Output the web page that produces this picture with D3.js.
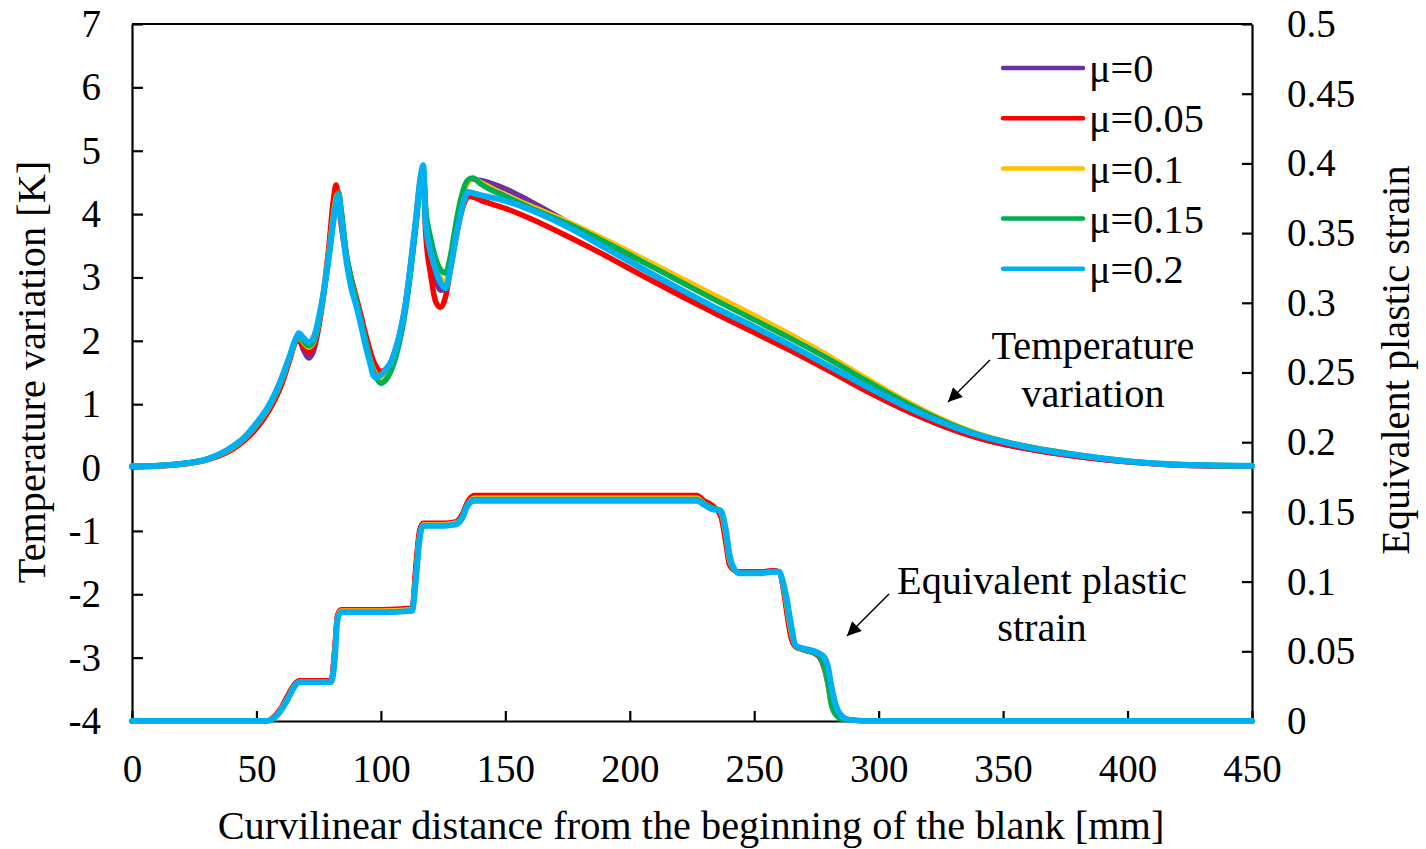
<!DOCTYPE html>
<html><head><meta charset="utf-8">
<script src="https://cdn.jsdelivr.net/npm/d3@7"></script>
<style>
body{margin:0;background:#fff;}
svg text{font-family:"Liberation Serif","Times New Roman",serif;fill:#000;}
</style>
</head><body>
<svg id="chart" width="1426" height="849"></svg>
<script>
// ---------- data ----------
const seriesNames  = ["μ=0", "μ=0.05", "μ=0.1", "μ=0.15", "μ=0.2"];
const seriesColors = ["#7030A0", "#FF0000", "#FFC000", "#00B050", "#00B0F0"];

const xTicks      = [0, 50, 100, 150, 200, 250, 300, 350, 400, 450];
const tempTicks   = [-4, -3, -2, -1, 0, 1, 2, 3, 4, 5, 6, 7];
const strainTicks = [0, 0.05, 0.1, 0.15, 0.2, 0.25, 0.3, 0.35, 0.4, 0.45, 0.5];
const strainTickLabels = ["0", "0.05", "0.1", "0.15", "0.2", "0.25", "0.3", "0.35", "0.4", "0.45", "0.5"];

// Temperature variation [K] vs curvilinear distance [mm]
const tempX = [
  0, 10, 20, 30, 40, 45, 50, 55, 60, 63,
  66, 67, 69, 71, 73, 76, 79, 81, 82, 83,
  84, 86, 88, 90, 92, 94, 96, 97, 98, 100,
  102, 104, 106, 108, 110, 112, 114, 116, 117, 118,
  120, 122, 124, 126, 128, 130, 132, 134, 135, 137,
  140, 150, 160, 175, 190, 205, 220, 235, 250, 265,
  280, 295, 310, 325, 340, 355, 370, 385, 400, 420,
  450];
const tempMu0 = [
  0.02, 0.03, 0.06, 0.13, 0.30, 0.45, 0.66, 0.94, 1.35, 1.68,
  2.00, 2.02, 1.85, 1.73, 1.85, 2.45, 3.35, 4.05, 4.30, 4.35,
  4.05, 3.38, 2.98, 2.66, 2.35, 2.02, 1.72, 1.60, 1.52, 1.44,
  1.45, 1.55, 1.78, 2.10, 2.55, 3.15, 3.82, 4.55, 4.70, 3.95,
  3.35, 2.98, 2.80, 2.85, 3.20, 3.72, 4.15, 4.45, 4.52, 4.55,
  4.53, 4.40, 4.20, 3.87, 3.49, 3.14, 2.80, 2.48, 2.17, 1.86,
  1.54, 1.21, 0.92, 0.67, 0.47, 0.33, 0.23, 0.15, 0.09, 0.04,
  0.02];
const tempMu005 = [
  0.01, 0.02, 0.05, 0.12, 0.28, 0.42, 0.62, 0.90, 1.30, 1.65,
  2.00, 2.02, 1.90, 1.82, 1.92, 2.50, 3.45, 4.25, 4.46, 4.20,
  3.85, 3.35, 3.00, 2.70, 2.40, 2.08, 1.80, 1.68, 1.60, 1.52,
  1.55, 1.66, 1.88, 2.18, 2.62, 3.22, 3.88, 4.55, 4.60, 3.70,
  3.05, 2.62, 2.53, 2.70, 3.15, 3.60, 3.98, 4.22, 4.28, 4.27,
  4.22, 4.09, 3.93, 3.65, 3.35, 3.03, 2.72, 2.42, 2.13, 1.84,
  1.53, 1.21, 0.92, 0.67, 0.47, 0.33, 0.23, 0.15, 0.09, 0.04,
  0.02];
const tempMu01 = [
  0.02, 0.03, 0.06, 0.13, 0.30, 0.45, 0.67, 0.95, 1.36, 1.70,
  2.02, 2.06, 1.97, 1.90, 1.98, 2.50, 3.35, 4.00, 4.25, 4.33,
  4.05, 3.35, 2.95, 2.62, 2.30, 1.97, 1.66, 1.55, 1.47, 1.38,
  1.42, 1.56, 1.80, 2.12, 2.56, 3.15, 3.82, 4.55, 4.72, 4.05,
  3.55, 3.20, 2.98, 2.92, 3.25, 3.75, 4.15, 4.43, 4.50, 4.56,
  4.50, 4.30, 4.13, 3.88, 3.60, 3.30, 3.00, 2.70, 2.40, 2.09,
  1.76, 1.41, 1.07, 0.77, 0.53, 0.37, 0.26, 0.17, 0.10, 0.05,
  0.03];
const tempMu015 = [
  0.02, 0.03, 0.06, 0.13, 0.31, 0.46, 0.68, 0.96, 1.37, 1.70,
  2.03, 2.08, 1.99, 1.92, 2.00, 2.50, 3.30, 3.95, 4.20, 4.33,
  4.08, 3.40, 2.98, 2.65, 2.32, 1.98, 1.65, 1.52, 1.43, 1.33,
  1.38, 1.52, 1.75, 2.08, 2.52, 3.10, 3.78, 4.55, 4.72, 4.10,
  3.62, 3.30, 3.12, 3.07, 3.35, 3.82, 4.22, 4.48, 4.54, 4.57,
  4.48, 4.28, 4.10, 3.85, 3.56, 3.25, 2.94, 2.63, 2.33, 2.03,
  1.71, 1.37, 1.04, 0.75, 0.52, 0.37, 0.26, 0.17, 0.10, 0.05,
  0.03];
const tempMu02 = [
  0.02, 0.03, 0.06, 0.13, 0.32, 0.47, 0.70, 0.98, 1.40, 1.72,
  2.05, 2.12, 2.04, 1.98, 2.06, 2.55, 3.30, 3.90, 4.15, 4.30,
  3.95, 3.30, 2.85, 2.57, 2.25, 1.90, 1.60, 1.45, 1.42, 1.46,
  1.55, 1.66, 1.88, 2.18, 2.60, 3.22, 3.90, 4.60, 4.77, 3.85,
  3.40, 3.12, 2.92, 2.83, 3.15, 3.60, 4.00, 4.28, 4.35, 4.33,
  4.30, 4.21, 4.07, 3.80, 3.47, 3.14, 2.82, 2.51, 2.22, 1.92,
  1.60, 1.28, 0.98, 0.72, 0.51, 0.36, 0.25, 0.17, 0.10, 0.05,
  0.03];

// Equivalent plastic strain vs curvilinear distance [mm]
const strainX = [
  0, 54, 57, 60, 63, 65, 67.5, 70, 80, 81.5,
  82.5, 84, 100, 112.5, 114, 115.5, 117, 125, 130, 132.5,
  135, 137.5, 150, 200, 227, 230, 233, 236.5, 238.5, 240,
  242, 244, 252, 258, 260, 261.5, 263, 264.7, 266.7, 270,
  275.5, 278, 279.6, 281, 283, 285.5, 288, 295, 450];
const strainMu0 = [
  0, 0, 0.003, 0.009, 0.019, 0.025, 0.029, 0.029, 0.029, 0.052,
  0.075, 0.079, 0.079, 0.080, 0.108, 0.135, 0.141, 0.141, 0.142, 0.147,
  0.157, 0.161, 0.161, 0.161, 0.161, 0.157, 0.154, 0.148, 0.130, 0.113,
  0.108, 0.107, 0.107, 0.108, 0.107, 0.097, 0.080, 0.062, 0.054, 0.051,
  0.047, 0.038, 0.026, 0.012, 0.004, 0.002, 0.001, 0, 0];
const strainMu005 = [
  0, 0, 0.003, 0.010, 0.020, 0.026, 0.029, 0.029, 0.029, 0.055,
  0.076, 0.080, 0.080, 0.081, 0.112, 0.137, 0.142, 0.142, 0.143, 0.148,
  0.158, 0.162, 0.162, 0.162, 0.162, 0.158, 0.155, 0.147, 0.128, 0.112,
  0.108, 0.107, 0.107, 0.108, 0.107, 0.096, 0.078, 0.060, 0.053, 0.051,
  0.048, 0.040, 0.028, 0.014, 0.005, 0.002, 0.001, 0, 0];
const strainMu01 = [
  0, 0, 0.002, 0.009, 0.018, 0.025, 0.028, 0.028, 0.028, 0.050,
  0.074, 0.079, 0.079, 0.080, 0.105, 0.133, 0.141, 0.141, 0.142, 0.146,
  0.156, 0.160, 0.160, 0.160, 0.160, 0.156, 0.153, 0.150, 0.134, 0.116,
  0.108, 0.106, 0.106, 0.107, 0.107, 0.098, 0.083, 0.065, 0.054, 0.051,
  0.048, 0.040, 0.027, 0.012, 0.004, 0.002, 0.001, 0, 0];
const strainMu015 = [
  0, 0, 0.002, 0.008, 0.018, 0.024, 0.028, 0.028, 0.028, 0.048,
  0.073, 0.078, 0.078, 0.079, 0.103, 0.132, 0.140, 0.140, 0.141, 0.146,
  0.156, 0.159, 0.159, 0.159, 0.159, 0.156, 0.153, 0.151, 0.136, 0.118,
  0.108, 0.106, 0.106, 0.107, 0.107, 0.099, 0.085, 0.067, 0.054, 0.051,
  0.048, 0.040, 0.027, 0.011, 0.004, 0.001, 0.001, 0, 0];
const strainMu02 = [
  0, 0, 0.002, 0.008, 0.017, 0.024, 0.028, 0.028, 0.028, 0.045,
  0.072, 0.078, 0.078, 0.079, 0.100, 0.130, 0.140, 0.140, 0.141, 0.145,
  0.155, 0.158, 0.158, 0.158, 0.158, 0.155, 0.152, 0.151, 0.138, 0.120,
  0.109, 0.106, 0.106, 0.107, 0.107, 0.100, 0.088, 0.070, 0.054, 0.052,
  0.049, 0.046, 0.039, 0.025, 0.010, 0.003, 0.001, 0, 0];

const tempSeries   = [tempMu0, tempMu005, tempMu01, tempMu015, tempMu02];
const strainSeries = [strainMu0, strainMu005, strainMu01, strainMu015, strainMu02];

// ---------- layout ----------
const L = 132, R = 1252, T = 24, B = 721;
const FS = 39;   // tick labels
const FT = 40.3; // titles, legend, annotations

const svg = d3.select("#chart");
const x  = d3.scaleLinear().domain([0, 450]).range([L, R]);
const yT = d3.scaleLinear().domain([-4, 7]).range([B, T]);
const yS = d3.scaleLinear().domain([0, 0.5]).range([B, T]);

function styleAxis(g) {
  g.selectAll("path.domain").attr("stroke", "#000").attr("stroke-width", 2.2);
  g.selectAll(".tick line").attr("stroke", "#000").attr("stroke-width", 2.2);
  g.selectAll(".tick text").attr("font-size", FS)
    .attr("font-family", '"Liberation Serif","Times New Roman",serif').attr("fill", "#000");
}

// top frame line
svg.append("line").attr("x1", L).attr("x2", R).attr("y1", T).attr("y2", T)
  .attr("stroke", "#000").attr("stroke-width", 2.2);

// axes
svg.append("g").attr("transform", `translate(0,${B})`)
  .call(d3.axisBottom(x).tickValues(xTicks).tickFormat(d3.format("d"))
        .tickSizeInner(-10).tickSizeOuter(0).tickPadding(33))
  .call(styleAxis);

svg.append("g").attr("transform", `translate(${L},0)`)
  .call(d3.axisLeft(yT).tickValues(tempTicks).tickFormat(d => String(d))
        .tickSizeInner(-11).tickSizeOuter(0).tickPadding(31))
  .call(styleAxis);

svg.append("g").attr("transform", `translate(${R},0)`)
  .call(d3.axisRight(yS).tickValues(strainTicks).tickFormat((d, i) => strainTickLabels[i])
        .tickSizeInner(-10).tickSizeOuter(0).tickPadding(35))
  .call(styleAxis);

// ---------- lines ----------
const lineT = d3.line().x((d, i) => x(tempX[i])).y(d => yT(d)).curve(d3.curveMonotoneX);
const lineS = d3.line().x((d, i) => x(strainX[i])).y(d => yS(d)).curve(d3.curveMonotoneX);

const gLines = svg.append("g");
strainSeries.forEach((s, k) => {
  gLines.append("path").attr("d", lineS(s)).attr("fill", "none")
    .attr("stroke", seriesColors[k]).attr("stroke-width", k === 4 ? 6 : 5)
    .attr("stroke-linejoin", "round").attr("stroke-linecap", "round");
});
tempSeries.forEach((s, k) => {
  gLines.append("path").attr("d", lineT(s)).attr("fill", "none")
    .attr("stroke", seriesColors[k]).attr("stroke-width", k === 4 ? 6 : 5.5)
    .attr("stroke-linejoin", "round").attr("stroke-linecap", "round");
});

// ---------- legend ----------
const leg = svg.append("g");
seriesNames.forEach((n, i) => {
  const yy = 68 + i * 50.2;
  leg.append("line").attr("x1", 1003).attr("x2", 1083).attr("y1", yy).attr("y2", yy)
    .attr("stroke", seriesColors[i]).attr("stroke-width", 4.5).attr("stroke-linecap", "round");
  leg.append("text").attr("x", 1089).attr("y", yy).attr("dy", "0.35em")
    .attr("font-size", FT).text(n);
});

// ---------- annotations ----------
svg.append("defs").append("marker").attr("id", "arr")
  .attr("viewBox", "0 0 10 10").attr("refX", 10).attr("refY", 5)
  .attr("markerWidth", 15).attr("markerHeight", 14).attr("markerUnits", "userSpaceOnUse")
  .attr("orient", "auto")
  .append("path").attr("d", "M0,0 L10,5 L0,10 z").attr("fill", "#000");

function annotate(lines, cx, cy, gap, from, to) {
  lines.forEach((t, i) => {
    svg.append("text").attr("x", cx).attr("y", cy + i * gap).attr("dy", "0.35em")
      .attr("text-anchor", "middle").attr("font-size", FT).text(t);
  });
  svg.append("line").attr("x1", from[0]).attr("y1", from[1]).attr("x2", to[0]).attr("y2", to[1])
    .attr("stroke", "#000").attr("stroke-width", 1.5).attr("marker-end", "url(#arr)");
}
annotate(["Temperature", "variation"], 1093, 345, 48, [990, 360], [948, 402]);
annotate(["Equivalent plastic", "strain"], 1042, 580, 47, [889, 594], [847, 636]);

// ---------- axis titles ----------
svg.append("text").attr("x", (L + R) / 2 - 1).attr("y", 839).attr("text-anchor", "middle")
  .attr("font-size", FT).text("Curvilinear distance from the beginning of the blank [mm]");
svg.append("text").attr("transform", `translate(45,372) rotate(-90)`).attr("text-anchor", "middle")
  .attr("font-size", FT).text("Temperature variation [K]");
svg.append("text").attr("transform", `translate(1409,360) rotate(-90)`).attr("text-anchor", "middle")
  .attr("font-size", FT).text("Equivalent plastic strain");
</script>
</body></html>
